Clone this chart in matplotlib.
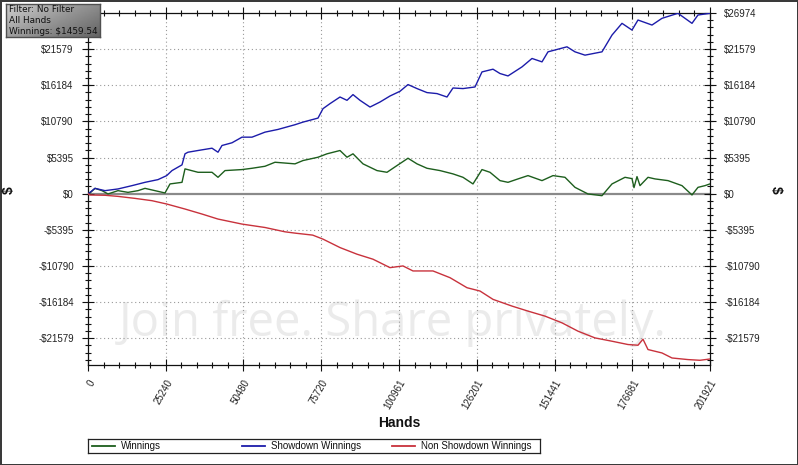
import matplotlib
matplotlib.use("Agg")
import matplotlib.pyplot as plt
import numpy as np
from matplotlib.ticker import FixedLocator, AutoMinorLocator
from matplotlib.lines import Line2D

plt.rcParams['font.family'] = ['Liberation Sans', 'DejaVu Sans']

# ---------------- data ----------------
showdown_hands = [0, 649, 2272, 5519, 9739, 14284, 18504, 22724, 25548, 27269, 30515, 31489,
                  32463, 35709, 40254, 42202, 43500, 46747, 49993, 53239, 57459, 61679, 67198,
                  69795, 74664, 76288, 78560, 81806, 84079, 86026, 88299, 91545, 94791, 98038,
                  101284, 103881, 106802, 110049, 113295, 116541, 118489, 121735, 125631,
                  127903, 131474, 133747, 136344, 140888, 144135, 147381, 149329, 155497,
                  158094, 161340, 166859, 170105, 173351, 176598, 178546, 183090, 186336,
                  191530, 196075, 198023, 201921]
showdown_values = [0, 195, 794, 450, 704, 1199, 1693, 2098, 2697, 3447, 4301, 5949,
                   6189, 6444, 6789, 6189, 7193, 7598, 8437, 8437, 9186, 9591, 10295,
                   10685, 11284, 12693, 13442, 14431, 13937, 14791, 13937, 12933, 13682, 14581,
                   15286, 16290, 15690, 15091, 14941, 14431, 15780, 15690, 15930,
                   18178, 18583, 17938, 17579, 18928, 20186, 19677, 21176, 21925,
                   21176, 20681, 21176, 23678, 25431, 24427, 25926, 25176, 26180,
                   26930, 25431, 26675, 26930]

winnings_hands = [0, 649, 2272, 4545, 6493, 9739, 12985, 16232, 18504, 21750, 24997, 26620,
                  30515, 31489, 35709, 40254, 42202, 44474, 49993, 53239, 57459, 60705, 67198,
                  69795, 74664, 77586, 81806, 84079, 86026, 89273, 93817, 97064, 100310,
                  103881, 106802, 110049, 114269, 118489, 121735, 124982, 127903, 130500,
                  133747, 136344, 139590, 142837, 147381, 150952, 154848, 158094, 162314,
                  166859, 170105, 174325, 176598, 177247, 178221, 179195, 181792, 184064,
                  188284, 192828, 196075, 198023, 200295, 201921]
winnings_values = [0, 105, 794, 450, -45, 450, 195, 450, 794, 450, 105, 1454,
                   1693, 3702, 3192, 3192, 2443, 3447, 3597, 3791, 4091, 4691, 4451,
                   4945, 5440, 5949, 6444, 5440, 5949, 4451, 3447, 3192, 4196,
                   5290, 4451, 3791, 3447, 2952, 2443, 1454, 3597, 3192,
                   1948, 1693, 2203, 2697, 1948, 2697, 2443, 944, -45,
                   -300, 1454, 2443, 2248, 899, 2548, 1199, 2443, 2203,
                   1948, 1199, -195, 944, 1199, 1459.54]

nonsd_hands = [0, 649, 5519, 9739, 15258, 20776, 25548, 31489, 37008, 42202, 49993, 57459,
               63952, 67198, 72955, 76288, 81806, 87324, 92518, 98038, 102257, 105504,
               111996, 117515, 123034, 127254, 131474, 137642, 142837, 148355, 153874,
               159068, 164586, 170105, 175299, 178546, 180169, 181792, 186336, 189582,
               194776, 198672, 201921]
nonsd_values = [0, -195, -240, -405, -704, -1049, -1544, -2293, -3042, -3791, -4541, -5050,
                -5695, -5890, -6189, -6789, -8047, -9036, -9786, -11045, -10790, -11539,
                -11539, -12543, -14042, -14536, -15780, -16784, -17534, -18283, -19287,
                -20531, -21535, -22030, -22524, -22629, -21729, -23273, -23782, -24532,
                -24771, -24876, -24682]

x_max = 201921
y_max = 26974
y_min = -25580
x_ticks = [0, 25240, 50480, 75720, 100961, 126201, 151441, 176681, 201921]
x_tick_labels = ["0", "25240", "50480", "75720", "100961", "126201", "151441", "176681", "201921"]
y_ticks = [-21579, -16184, -10790, -5395, 0, 5395, 10790, 16184, 21579, 26974]
y_tick_labels = ["-$21579", "-$16184", "-$10790", "-$5395", "$0", "$5395", "$10790",
                 "$16184", "$21579", "$26974"]

series_labels = ["Winnings", "Showdown Winnings", "Non Showdown Winnings"]
c_win = '#1d5e1d'
c_sd = '#1c1caa'
c_nsd = '#c8323c'

info_lines = ["Filter: No Filter", "All Hands", "Winnings: $1459.54"]

# ---------------- figure ----------------
W, H = 798, 465
fig = plt.figure(figsize=(W / 100, H / 100), dpi=100)
fig.patch.set_facecolor('white')
fig.patch.set_edgecolor('#3a3a3a')
fig.patch.set_linewidth(2.0)

ax = fig.add_axes([88 / W, 1 - 365 / H, 622 / W, 352 / H])
ax.set_facecolor('white')

# faint watermark text behind the data
ax.text(0.49, 0.12, "Join free. Share privately.", transform=ax.transAxes,
        ha='center', va='center', fontsize=34, color='#ebebeb',
        family=['Open Sans', 'DejaVu Sans'], zorder=0.5)

ax.axhline(0, color='#8a8a8a', lw=1.6, zorder=1.5)
ax.plot(winnings_hands, winnings_values, color=c_win, lw=1.0, zorder=3)
ax.plot(showdown_hands, showdown_values, color=c_sd, lw=1.0, zorder=3)
ax.plot(nonsd_hands, nonsd_values, color=c_nsd, lw=1.0, zorder=3)

ax.set_xlim(0, x_max)
ax.set_ylim(y_min, y_max)

ax.xaxis.set_major_locator(FixedLocator(x_ticks))
ax.set_xticklabels(x_tick_labels, rotation=60, ha='right', va='top',
                   rotation_mode='anchor')
ax.yaxis.set_major_locator(FixedLocator(y_ticks))
ax.set_yticklabels(y_tick_labels)
ax.xaxis.set_minor_locator(AutoMinorLocator(5))
ax.yaxis.set_minor_locator(AutoMinorLocator(5))

ax.tick_params(which='both', direction='inout', top=True, right=True,
               labelright=True, colors='#111111', labelcolor='#222222', labelsize=7)
ax.tick_params(which='major', length=8.5, width=0.8)
ax.tick_params(which='minor', length=4.3, width=0.8)
ax.tick_params(axis='y', which='major', pad=6)
ax.tick_params(axis='x', which='major', pad=5)
# the left top label sits under the info box in the reference
ax.yaxis.get_major_ticks()[-1].label1.set_visible(False)

for s in ax.spines.values():
    s.set_color('#111111')
    s.set_linewidth(0.9)

# dotted grid at major ticks (excluding frame edges)
for xv in x_ticks[1:-1]:
    ax.axvline(xv, color='#9a9a9a', lw=0.8, ls=(0, (1, 2.5)), zorder=1)
for yv in y_ticks[:-1]:
    if yv != 0:
        ax.axhline(yv, color='#9a9a9a', lw=0.8, ls=(0, (1, 2.5)), zorder=1)

ax.set_xlabel("Hands", fontsize=10, fontweight='bold', color='#111111')
ax.xaxis.set_label_coords((399 - 88) / 622, (365 - 416) / 352)
ax.set_ylabel("$", fontsize=10, fontweight='bold', rotation=90, color='#111111')
ax.yaxis.set_label_coords((16 - 88) / 622, (365 - 190) / 352)
fig.text(776 / W, 1 - 190 / H, "$", fontsize=10, fontweight='bold', rotation=270,
         ha='center', va='center', color='#111111')

# ---------------- legend box ----------------
lax = fig.add_axes([88 / W, 1 - 453 / H, 452 / W, 14 / H])
lax.set_xlim(0, 452)
lax.set_ylim(0, 14)
lax.set_xticks([])
lax.set_yticks([])
for s in lax.spines.values():
    s.set_color('#222222')
    s.set_linewidth(0.9)
for i, (lab, col) in enumerate(zip(series_labels, [c_win, c_sd, c_nsd])):
    x0 = 4 + i * 150
    lax.add_line(Line2D([x0, x0 + 23], [7, 7], color=col, lw=1.3))
    lax.text(x0 + 29, 7, lab, fontsize=7, va='center', ha='left', color='#111111')

# ---------------- info box ----------------
iax = fig.add_axes([6 / W, 1 - 37 / H, 94 / W, 33 / H])
grad = np.linspace(0, 1, 64)[None, :] * 0.6 + np.linspace(0, 1, 16)[:, None] * 0.4
iax.imshow(grad, cmap='Greys', vmin=-0.9, vmax=1.9, aspect='auto',
           extent=[0, 1, 0, 1], origin='upper')
iax.set_xlim(0, 1)
iax.set_ylim(0, 1)
iax.set_xticks([])
iax.set_yticks([])
for s in iax.spines.values():
    s.set_color('#505050')
    s.set_linewidth(1.0)
for j, t in enumerate(info_lines):
    iax.text(0.03, 0.82 - j * 0.32, t, fontsize=6.4, va='center', ha='left',
             color='#111111', family=['DejaVu Sans'])

fig.savefig("out.png", dpi=100, facecolor=fig.get_facecolor(),
            edgecolor=fig.get_edgecolor())
